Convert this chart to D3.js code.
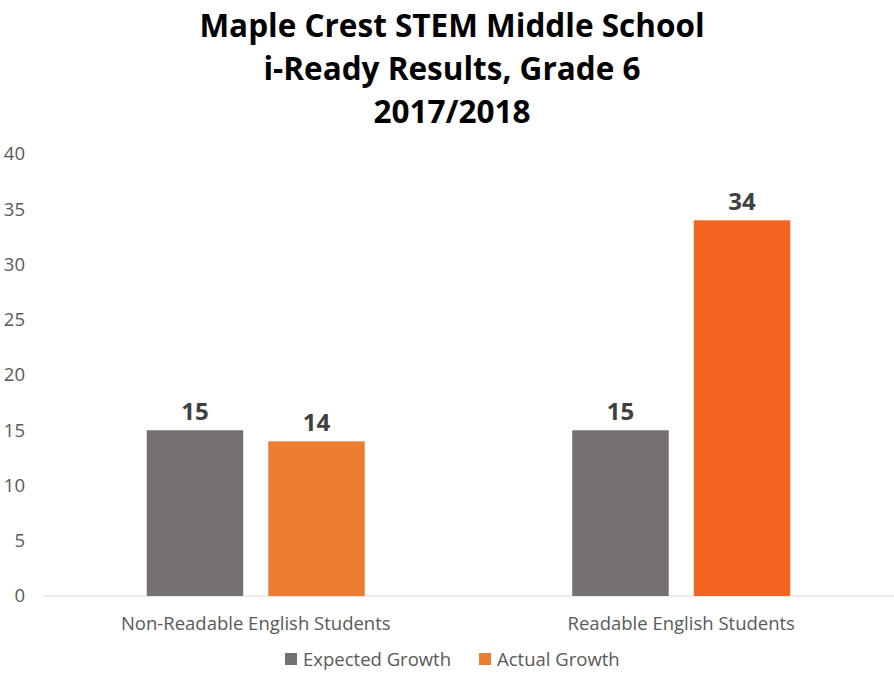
<!DOCTYPE html>
<html>
<head>
<meta charset="utf-8">
<script src="https://cdn.jsdelivr.net/npm/d3@7"></script>
<style>
  body { margin: 0; background: #fff; }
  svg { display: block; font-family: "Open Sans", sans-serif; }
</style>
</head>
<body>
<div id="chart"></div>
<script>
var categories = ["Non-Readable English Students", "Readable English Students"];
var seriesNames = ["Expected Growth", "Actual Growth"];
var expectedGrowth = [15, 15];
var actualGrowth = [14, 34];
var yTicks = [0, 5, 10, 15, 20, 25, 30, 35, 40];
var titleLines = ["Maple Crest STEM Middle School", "i-Ready Results, Grade 6", "2017/2018"];

var width = 894, height = 682;
var margin = {top: 154, right: 0, bottom: 86, left: 43};
var innerW = width - margin.left - margin.right,
    innerH = height - margin.top - margin.bottom;

var svg = d3.select("#chart").append("svg")
    .attr("width", width)
    .attr("height", height);

// title
svg.append("g").selectAll("text")
    .data(titleLines)
    .enter().append("text")
    .attr("x", 452)
    .attr("y", function(d, i) { return 37 + i * 43; })
    .attr("text-anchor", "middle")
    .style("font-size", "31.5px")
    .style("font-weight", "bold")
    .style("fill", "#000")
    .text(function(d) { return d; });

var g = svg.append("g")
    .attr("transform", "translate(" + margin.left + "," + margin.top + ")");

var x0 = d3.scaleBand()
    .domain(categories)
    .range([0, innerW]);

var x1 = d3.scaleBand()
    .domain(seriesNames)
    .range([0, 218])
    .paddingInner(0.206);

var y = d3.scaleLinear()
    .domain([0, 40])
    .range([innerH, 0]);

// y axis labels
var yAxis = g.append("g")
    .call(d3.axisLeft(y).tickValues(yTicks).tickSize(0).tickPadding(18));
yAxis.select(".domain").remove();
yAxis.selectAll("text")
    .style("font-size", "18.5px")
    .style("font-family", "Open Sans, sans-serif")
    .style("fill", "#595959");

// baseline
g.append("line")
    .attr("x1", 0)
    .attr("x2", innerW)
    .attr("y1", y(0))
    .attr("y2", y(0))
    .attr("stroke", "#d9d9d9")
    .attr("stroke-width", 1);

var rows = categories.map(function(c, i) {
    return {cat: c, values: [
        {name: seriesNames[0], value: expectedGrowth[i], color: "#767171"},
        {name: seriesNames[1], value: actualGrowth[i], color: i === 0 ? "#ED7D31" : "#F26522"}
    ]};
});

var groups = g.selectAll("g.cat")
    .data(rows)
    .enter().append("g")
    .attr("class", "cat")
    .attr("transform", function(d) {
        return "translate(" + (x0(d.cat) + x0.bandwidth() / 2 - 109) + ",0)";
    });

groups.selectAll("rect")
    .data(function(d) { return d.values; })
    .enter().append("rect")
    .attr("x", function(d) { return x1(d.name); })
    .attr("width", x1.bandwidth())
    .attr("y", function(d) { return y(d.value); })
    .attr("height", function(d) { return y(0) - y(d.value); })
    .attr("fill", function(d) { return d.color; });

groups.selectAll("text.val")
    .data(function(d) { return d.values; })
    .enter().append("text")
    .attr("class", "val")
    .attr("x", function(d) { return x1(d.name) + x1.bandwidth() / 2; })
    .attr("y", function(d) { return y(d.value) - 10; })
    .attr("text-anchor", "middle")
    .style("font-size", "24px")
    .style("font-weight", "bold")
    .style("fill", "#404040")
    .text(function(d) { return d.value; });

// category labels
g.selectAll("text.cat-label")
    .data(categories)
    .enter().append("text")
    .attr("class", "cat-label")
    .attr("x", function(d) { return x0(d) + x0.bandwidth() / 2; })
    .attr("y", innerH + 34)
    .attr("text-anchor", "middle")
    .style("font-size", "18.5px")
    .style("fill", "#595959")
    .text(function(d) { return d; });

// legend
var legendData = [
    {label: seriesNames[0], color: "#767171", x: 285},
    {label: seriesNames[1], color: "#ED7D31", x: 479}
];
var legend = svg.append("g");
legendData.forEach(function(d) {
    var lg = legend.append("g").attr("transform", "translate(" + d.x + ",653)");
    lg.append("rect")
        .attr("width", 12)
        .attr("height", 12)
        .attr("fill", d.color);
    lg.append("text")
        .attr("x", 18)
        .attr("y", 13)
        .style("font-size", "18.5px")
        .style("fill", "#595959")
        .text(d.label);
});
</script>
</body>
</html>
